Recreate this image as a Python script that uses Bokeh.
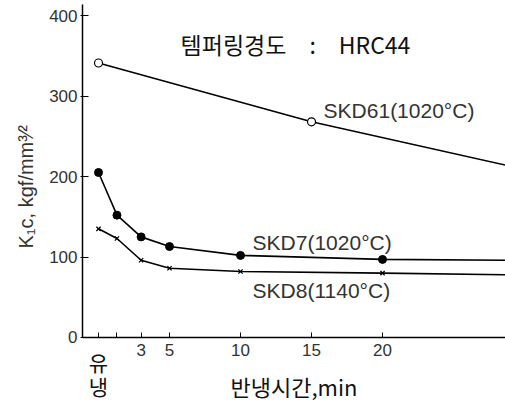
from bokeh.plotting import figure
from bokeh.models import Label, FixedTicker, Title
from bokeh.embed import file_html
from bokeh.resources import INLINE

# ---- data ----
x_ticks = [0, 1.3, 3, 5, 10, 15, 20]
x_tick_labels = ["", "", "3", "5", "10", "15", "20"]
y_ticks = [0, 100, 200, 300, 400]

# SKD61 (1020°C): measured points + line end at right edge
skd61_x = [0, 15]
skd61_y = [341, 268]
skd61_line_x = [0, 15, 28.7]
skd61_line_y = [341, 268, 214]

# SKD7 (1020°C)
skd7_x = [0, 1.3, 3, 5, 10, 20]
skd7_y = [205, 152, 125, 113, 102, 97]
skd7_line_x = skd7_x + [28.7]
skd7_line_y = skd7_y + [96]

# SKD8 (1140°C)
skd8_x = [0, 1.3, 3, 5, 10, 20]
skd8_y = [135, 123, 96, 86, 82, 80]
skd8_line_x = skd8_x + [28.7]
skd8_line_y = skd8_y + [78]

KR = "Noto Sans CJK KR"
LAT = "Liberation Sans"

p = figure(width=505, height=403, output_backend="svg", toolbar_location=None,
           x_range=(-1.127, 28.66), y_range=(-82, 413.7),
           min_border_left=82, min_border_right=0, min_border_top=4,
           min_border_bottom=0)
p.xgrid.visible = False
p.ygrid.visible = False
p.outline_line_color = None
p.background_fill_color = "white"

# y axis
p.yaxis.ticker = FixedTicker(ticks=y_ticks)
p.yaxis.bounds = (0, 413.7)
p.yaxis.major_tick_in = 6
p.yaxis.major_tick_out = 2
p.yaxis.minor_tick_in = 0
p.yaxis.minor_tick_out = 0
p.yaxis.axis_line_width = 1.5
p.yaxis.major_label_text_font = LAT
p.yaxis.major_label_text_font_size = "17px"
p.yaxis.major_label_text_color = "#333333"
p.yaxis.major_label_standoff = 3

# y axis title (placed as a left-side title so it can sit like the reference)
p.add_layout(Title(text="K\u2081c, kgf/mm\u00b3\u2044\u00b2", align="left",
                   offset=155, text_font=LAT, text_font_style="normal",
                   text_font_size="20px", text_color="#333333", standoff=20),
             "left")

# x axis, fixed at y = 0 inside the frame
p.xaxis.fixed_location = 0
p.xaxis.ticker = FixedTicker(ticks=x_ticks)
p.xaxis.major_label_overrides = dict(zip(x_ticks, x_tick_labels))
p.xaxis.major_tick_in = 5
p.xaxis.major_tick_out = 0
p.xaxis.minor_tick_in = 0
p.xaxis.minor_tick_out = 0
p.xaxis.axis_line_width = 1.5
p.xaxis.major_label_text_font = LAT
p.xaxis.major_label_text_font_size = "17px"
p.xaxis.major_label_text_color = "#333333"
p.xaxis.major_label_standoff = 7
p.xaxis.axis_label = "반냉시간,min"
p.xaxis.axis_label_text_font = KR
p.xaxis.axis_label_text_font_style = "normal"
p.xaxis.axis_label_text_font_size = "22px"
p.xaxis.axis_label_text_color = "#111111"
p.xaxis.axis_label_standoff = 10

# lines
for lx, ly in [(skd61_line_x, skd61_line_y), (skd7_line_x, skd7_line_y),
               (skd8_line_x, skd8_line_y)]:
    p.line(lx, ly, line_color="black", line_width=1.6)

p.scatter(skd61_x, skd61_y, marker="circle", size=8, fill_color="white",
          line_color="black", line_width=1.2)
p.scatter(skd7_x, skd7_y, marker="circle", size=8, fill_color="black",
          line_color="black")
p.scatter(skd8_x, skd8_y, marker="x", size=6, line_color="black", line_width=1.3)

# texts
p.add_layout(Label(x=13.87, y=365, text="템퍼링경도\u2003:\u2003HRC44", text_font=KR,
                   text_font_size="23px", text_align="center",
                   text_baseline="middle", text_color="#111111"))
p.add_layout(Label(x=15.85, y=282, text="SKD61(1020°C)", text_font=LAT,
                   text_font_size="21px", text_align="left",
                   text_baseline="middle", text_color="#333333"))
p.add_layout(Label(x=10.85, y=118, text="SKD7(1020°C)", text_font=LAT,
                   text_font_size="21px", text_align="left",
                   text_baseline="middle", text_color="#333333"))
p.add_layout(Label(x=10.85, y=58, text="SKD8(1140°C)", text_font=LAT,
                   text_font_size="21px", text_align="left",
                   text_baseline="middle", text_color="#333333"))
p.add_layout(Label(x=0, y=-31, text="유", text_font=KR, text_font_size="21px",
                   text_align="center", text_baseline="middle",
                   text_color="#111111"))
p.add_layout(Label(x=0, y=-60, text="냉", text_font=KR, text_font_size="21px",
                   text_align="center", text_baseline="middle",
                   text_color="#111111"))

open("out.html", "w").write(file_html(p, INLINE))
